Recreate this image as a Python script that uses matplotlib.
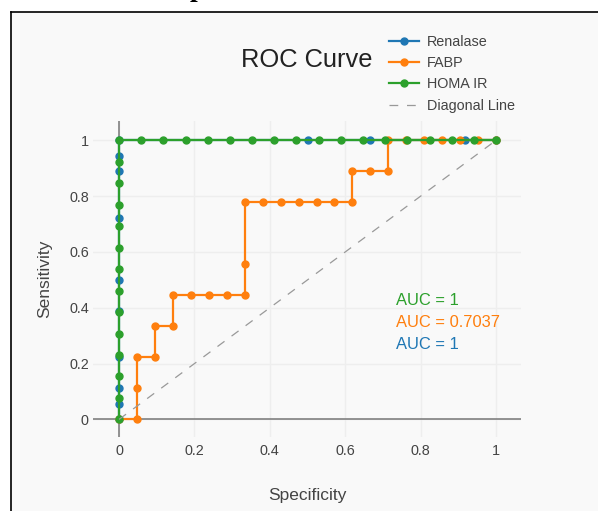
import matplotlib
matplotlib.use("Agg")
import matplotlib.pyplot as plt
from matplotlib.lines import Line2D

plt.rcParams['font.family'] = ['Liberation Sans', 'DejaVu Sans']

# ROC points (x = "Specificity" axis, y = Sensitivity)
renalase_x = [0, 0, 0, 0, 0, 0, 0, 0, 0, 0, 0.5, 0.6667, 0.9167, 1]
renalase_y = [0, 0.0556, 0.1111, 0.2222, 0.3889, 0.5, 0.7222, 0.8889, 0.9444, 1,
              1, 1, 1, 1]

fabp_x = [0, 0.0476, 0.0476, 0.0476, 0.0952, 0.0952, 0.1429, 0.1429, 0.1905, 0.2381,
          0.2857, 0.3333, 0.3333, 0.3333, 0.3810, 0.4286, 0.4762, 0.5238, 0.5714, 0.6190,
          0.6190, 0.6667, 0.7143, 0.7143, 0.7619, 0.8095, 0.8571, 0.9048, 0.9524, 1]
fabp_y = [0, 0, 0.1111, 0.2222, 0.2222, 0.3333, 0.3333, 0.4444, 0.4444, 0.4444,
          0.4444, 0.4444, 0.5556, 0.7778, 0.7778, 0.7778, 0.7778, 0.7778, 0.7778, 0.7778,
          0.8889, 0.8889, 0.8889, 1, 1, 1, 1, 1, 1, 1]

homa_x = [0, 0, 0, 0, 0, 0, 0, 0, 0, 0, 0, 0, 0, 0,
          0.0588, 0.1176, 0.1765, 0.2353, 0.2941, 0.3529, 0.4118, 0.4706, 0.5294,
          0.5882, 0.6471, 0.7059, 0.7647, 0.8235, 0.8824, 0.9412, 1]
homa_y = [0, 0.0769, 0.1538, 0.2308, 0.3077, 0.3846, 0.4615, 0.5385, 0.6154, 0.6923,
          0.7692, 0.8462, 0.9231, 1,
          1, 1, 1, 1, 1, 1, 1, 1, 1, 1, 1, 1, 1, 1, 1, 1, 1]

diag_x = [0, 1]
diag_y = [0, 1]

auc_labels = ['AUC = 1', 'AUC = 0.7037', 'AUC = 1']
ticks = [0, 0.2, 0.4, 0.6, 0.8, 1]
tick_labels = ['0', '0.2', '0.4', '0.6', '0.8', '1']

blue, orange, green = '#1f77b4', '#ff7f0e', '#2ca02c'
W, H = 598, 511

fig = plt.figure(figsize=(W / 100, H / 100), dpi=100, facecolor='white')

# page frame of the screenshot
fig.patches.append(plt.Rectangle((11 / W, 0), 1, 1 - 12 / H, transform=fig.transFigure,
                                 facecolor='#f9f9f9', edgecolor='none', zorder=-5))
fig.lines.append(Line2D([11 / W, 1], [1 - 12 / H, 1 - 12 / H], transform=fig.transFigure,
                        color='black', lw=1.2, zorder=-4))
fig.lines.append(Line2D([11 / W, 11 / W], [0, 1 - 12 / H], transform=fig.transFigure,
                        color='black', lw=1.2, zorder=-4))
fig.text(197 / W, 1 + 4 / H, 'p', family='Liberation Serif', fontweight='bold',
         fontsize=20, ha='center', va='baseline', color='black')

ax = fig.add_axes([93 / W, 1 - 437 / H, 428 / W, 316 / H])
ax.patch.set_visible(False)

lw, ms = 1.6, 5
ax.plot(renalase_x, renalase_y, '-o', color=blue, lw=lw, ms=ms, label='Renalase', zorder=3)
ax.plot(fabp_x, fabp_y, '-o', color=orange, lw=lw, ms=ms, label='FABP', zorder=4)
ax.plot(homa_x, homa_y, '-o', color=green, lw=lw, ms=ms, label='HOMA IR', zorder=5)
ax.plot(diag_x, diag_y, color='#999999', lw=0.9, dashes=(7, 7), label='Diagonal Line', zorder=6)

ax.set_xlim(-0.069, 1.066)
ax.set_ylim(-0.063, 1.069)
ax.set_xticks(ticks)
ax.set_xticklabels(tick_labels)
ax.set_yticks(ticks)
ax.set_yticklabels(tick_labels)
ax.tick_params(length=0, labelsize=10.4, labelcolor='#444444')
ax.tick_params(axis='x', pad=5)
ax.tick_params(axis='y', pad=3)
ax.grid(color='#eeeeee', lw=1)
ax.set_axisbelow(True)
for s in ax.spines.values():
    s.set_visible(False)
ax.axhline(0, color='#777777', lw=1.1, zorder=2)
ax.axvline(0, color='#777777', lw=1.1, zorder=2)

ax.set_xlabel('Specificity', fontsize=12.5, color='#444444', labelpad=21.5)
ax.set_ylabel('Sensitivity', fontsize=12.5, color='#444444', labelpad=12)

for lab, col, y in zip(auc_labels, [green, orange, blue], [0.427, 0.348, 0.269]):
    ax.text(0.735, y, lab, color=col, fontsize=11.9, ha='left', va='center')

fig.text(307 / W, 1 - 60 / H, 'ROC Curve', fontsize=18.4, ha='center', va='center',
         color='#222222')

fig.legend(loc='upper left', bbox_to_anchor=(389 / W, 1 - 35 / H), frameon=False,
           fontsize=10.4, handlelength=2.1, handletextpad=0.5, labelspacing=0.5,
           borderaxespad=0, borderpad=0, labelcolor='#444444')

fig.savefig('out.png', dpi=100)
